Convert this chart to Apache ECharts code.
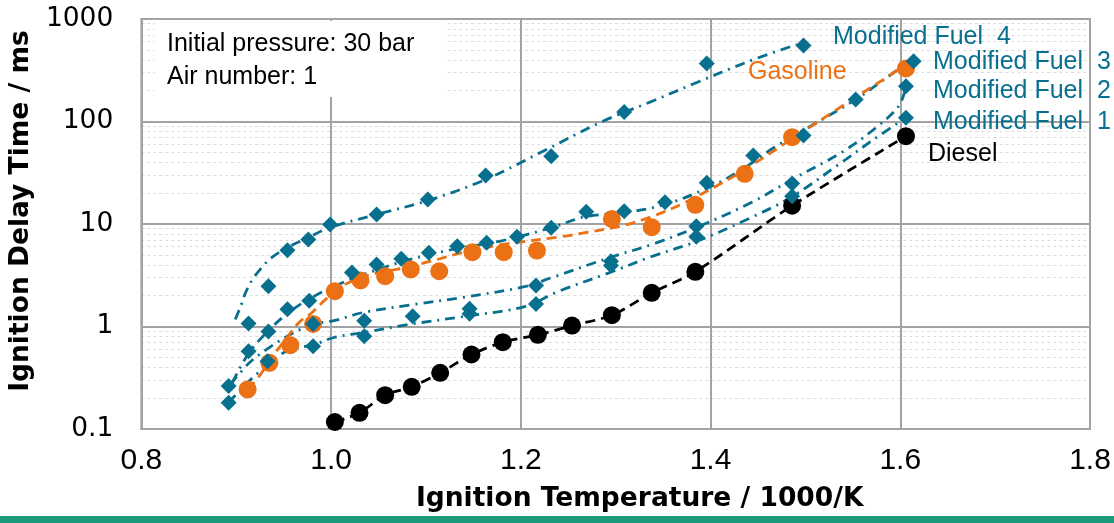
<!DOCTYPE html>
<html><head><meta charset="utf-8">
<script src="https://cdn.jsdelivr.net/npm/echarts@6/dist/echarts.min.js"></script>
<style>html,body{margin:0;padding:0;background:#fff}#c{width:1114px;height:523px}</style>
</head><body><div id="c"></div>
<script>
// ---- data: [1000/K, ignition delay ms] ----
const diesel = [[1.004,0.117],[1.030,0.144],[1.057,0.214],[1.085,0.258],[1.115,0.353],[1.148,0.533],[1.181,0.703],[1.218,0.830],[1.254,1.02],[1.296,1.29],[1.338,2.13],[1.384,3.42],[1.486,15.1],[1.606,71.9]];
const gasoline = [[0.912,0.243],[0.935,0.442],[0.957,0.657],[0.981,1.06],[1.004,2.21],[1.031,2.81],[1.057,3.10],[1.084,3.60],[1.114,3.46],[1.149,5.31],[1.182,5.31],[1.217,5.51],[1.296,11.2],[1.338,9.31],[1.384,15.4],[1.436,30.9],[1.486,70.3],[1.606,329]];
const fuel4 = [[0.913,1.07],[0.934,2.47],[0.954,5.55],[0.976,7.06],[0.999,9.89],[1.048,12.4],[1.102,17.3],[1.163,29.7],[1.232,45.9],[1.309,124],[1.396,368],[1.498,551]];
const fuel3 = [[0.913,0.574],[0.934,0.894],[0.954,1.47],[0.977,1.78],[1.022,3.36],[1.048,4.03],[1.074,4.57],[1.103,5.23],[1.133,6.07],[1.164,6.55],[1.196,7.50],[1.232,9.19],[1.269,13.2],[1.309,13.3],[1.352,16.3],[1.396,25.2],[1.445,46.6],[1.498,73.0],[1.553,164],[1.614,388]];
const fuel2 = [[0.892,0.262],[0.933,0.458],[0.981,1.06],[1.035,1.14],[1.146,1.49],[1.216,2.51],[1.295,4.34],[1.385,9.52],[1.486,24.8],[1.606,221]];
const fuel1 = [[0.892,0.180],[0.981,0.642],[1.035,0.804],[1.086,1.26],[1.146,1.33],[1.216,1.66],[1.295,3.94],[1.385,7.50],[1.486,18.7],[1.606,109]];
// trend curves
const gasolineTrend = [[0.912,0.243],[0.924,0.325],[0.936,0.477],[0.952,0.747],[0.966,1.09],[0.980,1.37],[0.994,1.83],[1.011,2.46],[1.032,3.01],[1.050,3.36],[1.069,3.60],[1.104,4.31],[1.139,5.27],[1.181,6.31],[1.244,7.55],[1.268,8.26],[1.304,9.46],[1.338,11.8],[1.373,16.2],[1.409,24.3],[1.433,32.5],[1.485,66.8],[1.538,140],[1.587,275],[1.601,336]];
const fuel4Trend = [[0.899,1.17],[0.905,1.60],[0.910,2.15],[0.917,2.87],[0.927,3.76],[0.936,4.61],[0.954,5.90],[0.976,7.39],[0.999,9.24],[1.048,12.4],[1.102,16.9],[1.163,27.2],[1.223,51.0],[1.286,100],[1.338,157],[1.383,235],[1.440,385],[1.491,564]];
const fuel3Trend = [[0.896,0.284],[0.913,0.545],[0.933,0.894],[0.954,1.34],[0.976,1.83],[1.003,2.46],[1.034,3.22],[1.076,4.31],[1.128,5.64],[1.181,6.90],[1.233,9.24],[1.268,11.8],[1.309,12.9],[1.352,15.5],[1.398,22.7],[1.433,34.0],[1.467,55.7],[1.553,164],[1.598,322],[1.613,385]];
const fuel2Trend = [[0.894,0.272],[0.913,0.435],[0.932,0.597],[0.957,0.836],[0.981,1.05],[1.003,1.14],[1.034,1.37],[1.087,1.64],[1.139,1.92],[1.205,2.46],[1.233,3.01],[1.294,4.71],[1.338,6.31],[1.385,9.25],[1.443,16.2],[1.486,27.2],[1.538,49.8],[1.572,83.6],[1.598,140],[1.606,215]];
const fuel1Trend = [[0.892,0.181],[0.910,0.272],[0.927,0.380],[0.947,0.533],[0.957,0.597],[0.982,0.667],[1.003,0.781],[1.034,0.874],[1.083,1.05],[1.139,1.25],[1.205,1.57],[1.239,2.19],[1.294,3.36],[1.338,4.82],[1.385,6.75],[1.443,11.6],[1.486,18.5],[1.538,39.8],[1.572,66.8],[1.606,109]];
// axis ticks
const yTickLabels = ['0.1','1','10','100','1000'];
const minorY = [0.2,0.3,0.4,0.5,0.6,0.7,0.8,0.9,2,3,4,5,6,7,8,9,20,30,40,50,60,70,80,90,200,300,400,500,600,700,800,900];
const seriesNames = ['Modified Fuel  4','Modified Fuel  3','Modified Fuel  2','Modified Fuel  1','Gasoline','Diesel'];

const TEAL = '#08708e', ORANGE = '#ec7014', BLACK = '#000000', GRID = '#a3a3a3';
const DASHDOT = [10,6,2,6];

function trend(name, data, color, type) {
  return {type:'line', name:name+' trend', data:data, smooth:0.35, showSymbol:false, symbol:'none', silent:true,
    lineStyle:{color:color, width:2.8, type:type}, z:3};
}
function diamonds(name, data) {
  return {type:'scatter', name:name, data:data, symbol:'diamond', symbolSize:16,
    itemStyle:{color:TEAL, opacity:1}, z:6};
}

const chart = echarts.init(document.getElementById('c'), null, {renderer:'canvas'});
chart.setOption({
  animation:false,
  grid:{left:137, right:24, top:19, bottom:94, show:true, borderColor:GRID, borderWidth:2, backgroundColor:'transparent'},
  xAxis:{type:'value', min:0.8, max:1.8, interval:0.2, z:1,
    axisLine:{show:true, lineStyle:{color:GRID, width:2}}, axisTick:{show:false},
    splitLine:{show:true, lineStyle:{color:GRID, width:2}},
    axisLabel:{margin:17, fontFamily:'Liberation Sans', fontSize:30, color:'#000', formatter:v=>v.toFixed(1)},
    name:'Ignition Temperature / 1000/K', nameLocation:'middle', nameGap:57,
    nameTextStyle:{fontFamily:'DejaVu Sans', fontWeight:'bold', fontSize:26.5, color:'#000', padding:[0,0,0,48]}
  },
  yAxis:{type:'log', logBase:10, min:0.1, max:1000, z:1,
    axisLine:{show:true, lineStyle:{color:GRID, width:2}}, axisTick:{show:false},
    splitLine:{show:true, lineStyle:{color:GRID, width:2}},
    axisLabel:{margin:28, fontFamily:'DejaVu Sans', fontSize:26.5, color:'#000',
      formatter:v=>{const i=Math.round(Math.log10(v))+1; return yTickLabels[i]!==undefined?yTickLabels[i]:String(v);}},
    name:'Ignition Delay Time / ms', nameLocation:'middle', nameGap:90,
    nameTextStyle:{fontFamily:'DejaVu Sans', fontWeight:'bold', fontSize:26.5, color:'#000', padding:[0,0,0,26]}
  },
  series:[
    {type:'line', name:'minor grid', data:[], silent:true, z:0,
      markLine:{silent:true, z:0, symbol:['none','none'], label:{show:false}, animation:false,
        emphasis:{disabled:true},
        lineStyle:{color:'#dcdcdc', width:1, type:[3,3]},
        data:minorY.map(v=>({yAxis:v}))}},
    trend(seriesNames[0], fuel4Trend, TEAL, DASHDOT),
    trend(seriesNames[1], fuel3Trend, TEAL, DASHDOT),
    trend(seriesNames[2], fuel2Trend, TEAL, DASHDOT),
    trend(seriesNames[3], fuel1Trend, TEAL, DASHDOT),
    {type:'line', name:'Diesel', data:diesel, smooth:0.3, symbol:'circle', symbolSize:18, showSymbol:true,
      itemStyle:{color:BLACK, opacity:1}, lineStyle:{color:BLACK, width:2.8, type:[10,6]}, z:4},
    {type:'scatter', name:'Gasoline', data:gasoline, symbol:'circle', symbolSize:18, itemStyle:{color:ORANGE, opacity:1}, z:5},
    trend('Gasoline', gasolineTrend, ORANGE, [10,6]),
    diamonds(seriesNames[0], fuel4),
    diamonds(seriesNames[1], fuel3),
    diamonds(seriesNames[2], fuel2),
    diamonds(seriesNames[3], fuel1)
  ],
  graphic:[
    {type:'rect', z:10, shape:{x:155, y:21, width:292, height:76}, style:{fill:'#ffffff'}},
    {type:'text', z:11, style:{x:167, y:44, text:'Initial pressure: 30 bar', font:'25px "Liberation Sans"', fill:'#000', verticalAlign:'middle'}},
    {type:'text', z:11, style:{x:167, y:77, text:'Air number: 1', font:'25px "Liberation Sans"', fill:'#000', verticalAlign:'middle'}},
    {type:'text', z:11, style:{x:833, y:37.5, text:seriesNames[0], font:'25px "Liberation Sans"', fill:TEAL, verticalAlign:'middle'}},
    {type:'text', z:11, style:{x:933, y:62.5, text:seriesNames[1], font:'25px "Liberation Sans"', fill:TEAL, verticalAlign:'middle'}},
    {type:'text', z:11, style:{x:933, y:91.5, text:seriesNames[2], font:'25px "Liberation Sans"', fill:TEAL, verticalAlign:'middle'}},
    {type:'text', z:11, style:{x:933, y:122.5, text:seriesNames[3], font:'25px "Liberation Sans"', fill:TEAL, verticalAlign:'middle'}},
    {type:'text', z:11, style:{x:748, y:72.5, text:seriesNames[4], font:'25px "Liberation Sans"', fill:ORANGE, verticalAlign:'middle'}},
    {type:'text', z:11, style:{x:928, y:154, text:seriesNames[5], font:'25px "Liberation Sans"', fill:BLACK, verticalAlign:'middle'}},
    {type:'rect', z:11, shape:{x:0, y:516, width:1114, height:7}, style:{fill:'#1a9a7a'}}
  ]
});
</script></body></html>
